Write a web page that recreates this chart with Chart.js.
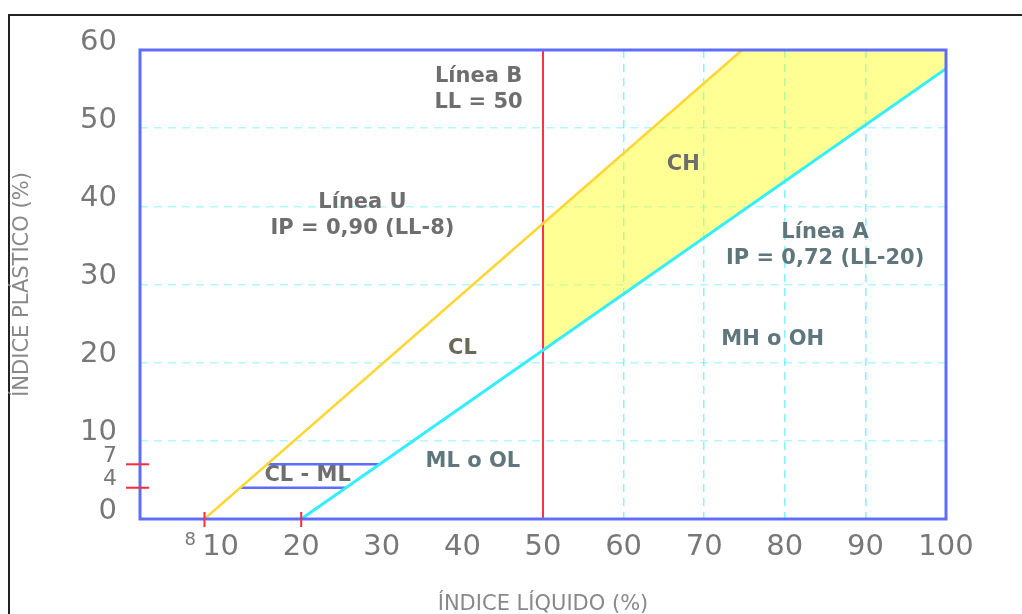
<!DOCTYPE html>
<html>
<head>
<meta charset="utf-8">
<script src="https://cdn.jsdelivr.net/npm/chart.js@4.4.0/dist/chart.umd.min.js"></script>
<style>
  html, body { margin: 0; padding: 0; background: #fff; overflow: hidden; }
  #frame { position: absolute; left: 8px; top: 14px; width: 1014px; height: 600px;
           border-top: 2px solid #222; border-left: 2px solid #222; }
  #wrap { position: absolute; left: 0; top: 0; width: 1022px; height: 614px; }
</style>
</head>
<body>
<div id="frame"></div>
<div id="wrap"><canvas id="plasticityChart" width="1022" height="614"></canvas></div>
<script>
// Carta de plasticidad (Casagrande)
const xTicks = [8, 10, 20, 30, 40, 50, 60, 70, 80, 90, 100];
const yTicks = [0, 4, 7, 10, 20, 30, 40, 50, 60];
const markedX = [8, 20];
const markedY = [4, 7];

// Línea U: IP = 0,90 (LL-8)
const lineU = [{x: 8, y: 0}, {x: 50, y: 37.8}, {x: 74.7, y: 60}];
// Línea A: IP = 0,72 (LL-20)
const lineA = [{x: 20, y: 0}, {x: 50, y: 21.6}, {x: 100, y: 57.6}];
// Línea B: LL = 50
const lineB = [{x: 50, y: 0}, {x: 50, y: 60}];
// limites de la zona CL - ML
const clml4 = [{x: 12.4, y: 4}, {x: 25.6, y: 4}];
const clml7 = [{x: 15.8, y: 7}, {x: 29.7, y: 7}];
// zona CH, entre la linea U y la linea A
const zoneCH = [{x: 50, y: 21.6}, {x: 50, y: 37.8}, {x: 74.7, y: 60}, {x: 100, y: 60}, {x: 100, y: 57.6}, {x: 50, y: 21.6}];

// textos dentro del grafico (posicion en unidades del grafico)
const notes = [
  {text: ['Línea B', 'LL = 50'], x: 42, y: 55, color: '#6e6e6e'},
  {text: ['Línea U', 'IP = 0,90 (LL-8)'], x: 27.6, y: 38.8, color: '#6e6e6e'},
  {text: ['CH'], x: 67.4, y: 45.4, color: '#6e6e6e'},
  {text: ['Línea A', 'IP = 0,72 (LL-20)'], x: 85, y: 35, color: '#5f767c'},
  {text: ['MH o OH'], x: 78.5, y: 22.9, color: '#5f767c'},
  {text: ['CL'], x: 40, y: 21.8, color: '#6b6858'},
  {text: ['CL - ML'], x: 20.8, y: 5.5, color: '#6e6e6e'},
  {text: ['ML o OL'], x: 41.3, y: 7.3, color: '#5f767c'}
];

const extras = {
  id: 'extras',
  afterDatasetsDraw(chart) {
    const {ctx, chartArea: a, scales: {x, y}} = chart;
    ctx.save();
    ctx.strokeStyle = '#5f6dff';
    ctx.lineWidth = 3;
    ctx.strokeRect(a.left, a.top, a.right - a.left, a.bottom - a.top);

    ctx.strokeStyle = '#ff2a3a';
    ctx.lineWidth = 2;
    markedX.forEach(v => {
      const px = x.getPixelForValue(v);
      ctx.beginPath();
      ctx.moveTo(px, a.bottom - 7);
      ctx.lineTo(px, a.bottom + 8);
      ctx.stroke();
    });
    markedY.forEach(v => {
      const py = y.getPixelForValue(v);
      ctx.beginPath();
      ctx.moveTo(a.left - 14, py);
      ctx.lineTo(a.left + 9, py);
      ctx.stroke();
    });

    ctx.font = 'bold 21px "DejaVu Sans"';
    ctx.textAlign = 'center';
    ctx.textBaseline = 'middle';
    notes.forEach(n => {
      const px = x.getPixelForValue(n.x);
      const py = y.getPixelForValue(n.y);
      ctx.fillStyle = n.color;
      n.text.forEach((t, i) => {
        ctx.fillText(t, px, py + (i - (n.text.length - 1) / 2) * 26);
      });
    });
    ctx.restore();
  }
};

const line = (data, color, width, order) => ({
  data: data, showLine: true, borderColor: color, borderWidth: width,
  pointRadius: 0, fill: false, order: order
});

new Chart(document.getElementById('plasticityChart'), {
  type: 'scatter',
  data: {
    datasets: [
      {data: zoneCH, showLine: true, fill: 'shape', backgroundColor: 'rgba(255,255,0,0.42)',
       borderWidth: 0, pointRadius: 0, order: 6},
      line(lineB, '#ff3340', 2, 5),
      line(clml4, '#5b6cff', 2.5, 4),
      line(clml7, '#5b6cff', 2.5, 3),
      line(lineU, '#ffd633', 2.5, 2),
      line(lineA, '#33eeff', 3, 1)
    ]
  },
  options: {
    responsive: false,
    animation: false,
    layout: {padding: {top: 50, right: 76, bottom: 0, left: 0}},
    plugins: {legend: {display: false}, tooltip: {enabled: false}},
    scales: {
      x: {
        type: 'linear', min: 0, max: 100,
        afterBuildTicks: s => { s.ticks = xTicks.map(v => ({value: v})); },
        afterFit: s => { s.height = 95; },
        ticks: {
          autoSkip: false, maxRotation: 0, color: '#777', padding: 11,
          font: c => ({family: 'DejaVu Sans', size: c.tick && c.tick.value === 8 ? 18 : 29}),
          callback: v => v === 8 ? '8     ' : String(v)
        },
        grid: {
          drawTicks: false, lineWidth: 1.5,
          color: c => (c.tick && c.tick.value >= 60 && c.tick.value < 100) ? 'rgba(0,235,255,0.5)' : 'rgba(0,0,0,0)'
        },
        border: {display: false, dash: [8, 6]},
        title: {
          display: true, text: 'ÍNDICE LÍQUIDO (%)', color: '#888',
          font: {family: 'DejaVu Sans', size: 21, lineHeight: 1}, padding: {top: 0, bottom: -1}
        }
      },
      y: {
        type: 'linear', min: 0, max: 60,
        afterBuildTicks: s => { s.ticks = yTicks.map(v => ({value: v})); },
        afterFit: s => { s.width = 140; },
        ticks: {
          autoSkip: false, color: '#777', padding: 23, labelOffset: -8,
          font: c => ({family: 'DejaVu Sans', size: c.tick && (c.tick.value === 4 || c.tick.value === 7) ? 22 : 29})
        },
        grid: {
          drawTicks: false, lineWidth: 1.5,
          color: c => (c.tick && c.tick.value >= 10 && c.tick.value < 60) ? 'rgba(0,235,255,0.3)' : 'rgba(0,0,0,0)'
        },
        border: {display: false, dash: [8, 6]},
        title: {
          display: true, text: 'ÍNDICE PLÁSTICO (%)', color: '#888',
          font: {family: 'DejaVu Sans', size: 21, lineHeight: 1.2}, padding: {top: 10, bottom: 0}
        }
      }
    }
  },
  plugins: [extras]
});
</script>
</body>
</html>
